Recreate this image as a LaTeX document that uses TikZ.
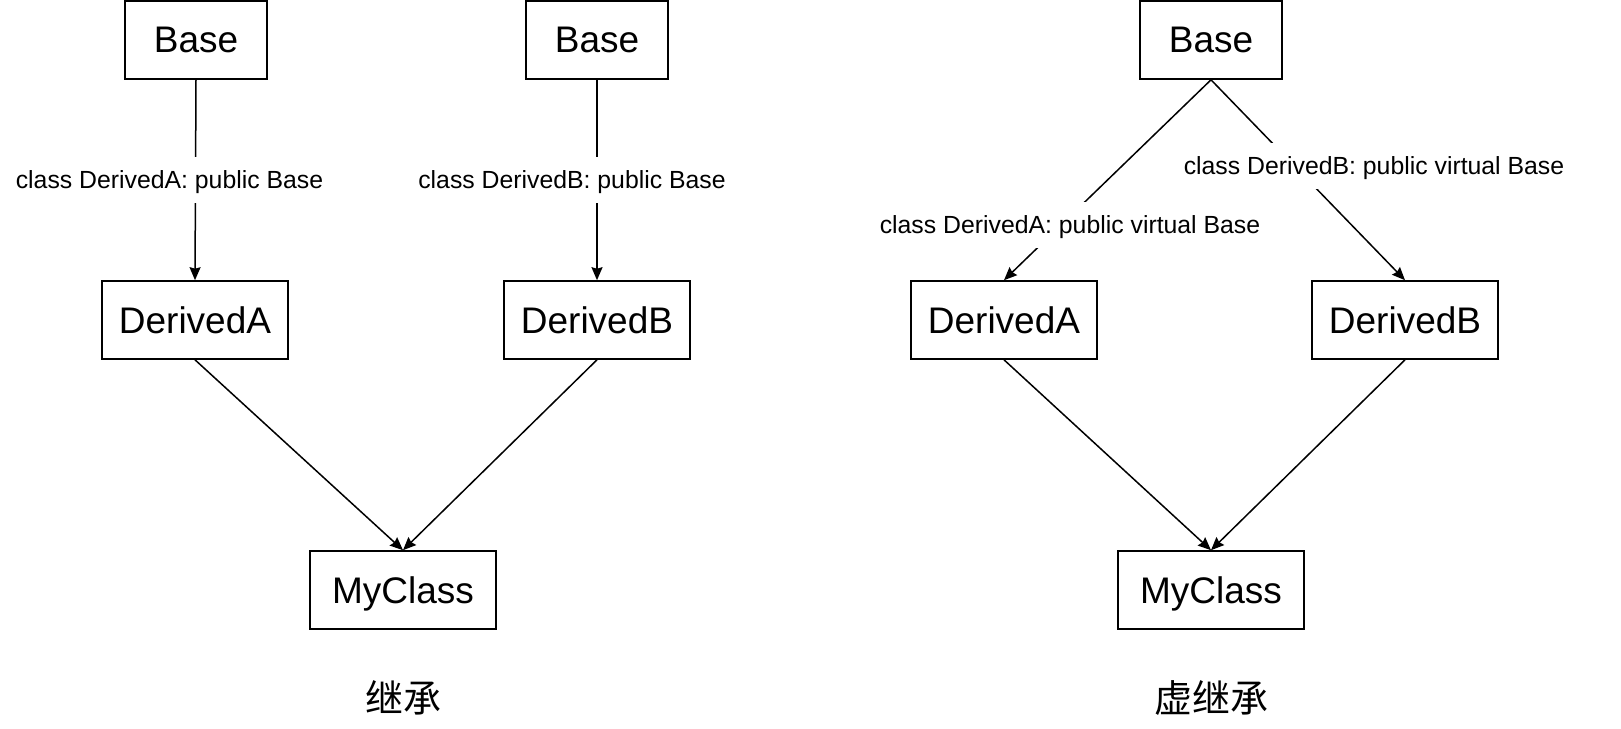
\documentclass[tikz,border=0pt]{standalone}
\usepackage{fontspec}
\setmainfont{Liberation Sans}
\newfontfamily\cjk{Noto Sans CJK SC}
\usetikzlibrary{arrows.meta}
\begin{document}
\begin{tikzpicture}[x=1pt,y=-1pt,
  box/.style={draw,line width=1.6pt,inner sep=0pt,minimum height=78pt,text depth=0pt,font=\fontsize{37}{44}\selectfont},
  lbl/.style={fill=white,inner sep=1pt,minimum height=46pt,text depth=0pt,font=\fontsize{24.8}{30}\selectfont},
  captext/.style={font=\cjk\fontsize{38}{44}\selectfont},
  edge/.style={line width=1.5pt,-{Stealth[length=13pt,width=11pt,inset=1.5pt]}}]
\useasboundingbox (0,0) rectangle (1621,728);
\node[box,minimum width=142pt] (baseA) at (196,40) {Base};
\node[box,minimum width=142pt] (baseB) at (597,40) {Base};
\node[box,minimum width=186pt] (derA) at (195,320) {DerivedA};
\node[box,minimum width=186pt] (derB) at (597,320) {DerivedB};
\node[box,minimum width=186pt] (my) at (403,590) {MyClass};
\node[captext] (capA) at (403,698) {继承};
\node[box,minimum width=142pt] (vbase) at (1211,40) {Base};
\node[box,minimum width=186pt] (vderA) at (1004,320) {DerivedA};
\node[box,minimum width=186pt] (vderB) at (1405,320) {DerivedB};
\node[box,minimum width=186pt] (vmy) at (1211,590) {MyClass};
\node[captext] (capB) at (1211,698) {虚继承};
\draw[edge] (baseA.south) -- (derA.north);
\draw[edge] (baseB.south) -- (derB.north);
\draw[edge] (derA.south) -- (my.north);
\draw[edge] (derB.south) -- (my.north);
\draw[edge] (vbase.south) -- (vderA.north);
\draw[edge] (vbase.south) -- (vderB.north);
\draw[edge] (vderA.south) -- (vmy.north);
\draw[edge] (vderB.south) -- (vmy.north);
\node[lbl] (labA) at (169.5,180) {class DerivedA: public Base};
\node[lbl] (labB) at (572,180) {class DerivedB: public Base};
\node[lbl] (vlabA) at (1070,225) {class DerivedA: public virtual Base};
\node[lbl] (vlabB) at (1374,166) {class DerivedB: public virtual Base};
\end{tikzpicture}
\end{document}
